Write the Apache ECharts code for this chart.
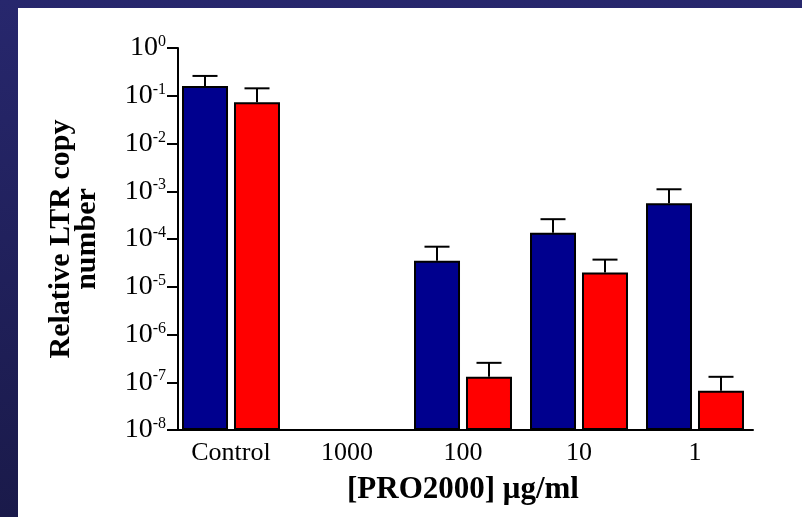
<!DOCTYPE html>
<html>
<head>
<meta charset="utf-8">
<script src="https://cdn.jsdelivr.net/npm/echarts@6/dist/echarts.min.js"></script>
<style>
 html, body { margin: 0; padding: 0; }
 body {
 	width: 802px; height: 517px; position: relative; overflow: hidden;
 	background: linear-gradient(to bottom, #27276d, #1a1a4a);
 }
 .panel { position: absolute; left: 18px; top: 8px; right: 0; bottom: 0; background: #fff; }
 #chart { position: absolute; left: 0; top: 0; width: 802px; height: 517px; }
</style>
</head>
<body>
<div class="panel"></div>
<div id="chart"></div>
<script type="text/javascript">
	// PRO2000 dose groups
	var categories = ['Control', '1000', '100', '10', '1'];
	// blue series: mean and upper error
	var blueMean  = [0.16, null, 3.5e-5, 1.35e-4, 5.6e-4];
	var blueUpper = [0.26, null, 6.9e-5, 2.6e-4, 1.1e-3];
	// red series: mean and upper error
	var redMean  = [0.073, null, 1.3e-7, 2.0e-5, 6.6e-8];
	var redUpper = [0.143, null, 2.55e-7, 3.7e-5, 1.3e-7];

	var serif = 'Liberation Serif';
	var barW = 46, gap = 6;

	function errData(mean, upper) {
		var out = [];
		for (var i = 0; i < mean.length; i++) {
			if (mean[i] != null) out.push([i, mean[i], upper[i]]);
		}
		return out;
	}

	function errorBar(offset) {
		return function (params, api) {
			var base = api.coord([api.value(0), api.value(1)]);
			var top = api.coord([api.value(0), api.value(2)]);
			var x = base[0] + offset;
			var st = { stroke: '#000', lineWidth: 2 };
			return {
				type: 'group',
				children: [
					{ type: 'line', shape: { x1: x, y1: base[1], x2: x, y2: top[1] }, style: st },
					{ type: 'line', shape: { x1: x - 12.5, y1: top[1], x2: x + 12.5, y2: top[1] }, style: st }
				]
			};
		};
	}

	var options = {
		backgroundColor: 'transparent',
		animation: false,
		grid: { left: 173, right: 49, top: 48, bottom: 87 },
		xAxis: {
			type: 'category',
			data: categories,
			axisTick: { show: false },
			axisLine: { lineStyle: { color: '#000', width: 2 } },
			axisLabel: { color: '#000', fontFamily: serif, fontSize: 26, margin: 10 },
			name: '[PRO2000] \u03bcg/ml',
			nameLocation: 'middle',
			nameGap: 44,
			nameTextStyle: { color: '#000', fontFamily: serif, fontSize: 31, fontWeight: 'bold' }
		},
		yAxis: {
			type: 'log',
			logBase: 10,
			min: 1e-8,
			max: 1,
			interval: 1,
			startValue: 1e-8,
			offset: -5,
			splitLine: { show: false },
			minorTick: { show: false },
			axisLine: { show: true, lineStyle: { color: '#000', width: 2 } },
			axisTick: { show: true, length: 11, lineStyle: { color: '#000', width: 2 } },
			axisLabel: {
				margin: 12,
				formatter: function (v) {
					var e = Math.round(Math.log10(v));
					return '{b|10}{s|' + (e === 0 ? '0' : '-' + (-e)) + '}';
				},
				rich: {
					b: { fontFamily: serif, fontSize: 28, color: '#000' },
					s: { fontFamily: serif, fontSize: 16, color: '#000', verticalAlign: 'top' }
				}
			},
			name: 'Relative LTR copy\nnumber',
			nameLocation: 'middle',
			nameRotate: 90,
			nameGap: 78,
			nameTextStyle: { color: '#000', fontFamily: serif, fontSize: 30, fontWeight: 'bold', lineHeight: 26 }
		},
		series: [
			{
				type: 'bar', data: blueMean, barWidth: barW, barGap: '13%',
				itemStyle: { color: '#00008e', borderColor: '#000', borderWidth: 2 }
			},
			{
				type: 'bar', data: redMean, barWidth: barW,
				itemStyle: { color: '#ff0000', borderColor: '#000', borderWidth: 2 }
			},
			{
				type: 'custom', data: errData(blueMean, blueUpper),
				renderItem: errorBar(-(barW + gap) / 2), z: 5
			},
			{
				type: 'custom', data: errData(redMean, redUpper),
				renderItem: errorBar((barW + gap) / 2), z: 5
			}
		]
	};

	var myChart = echarts.init(document.getElementById('chart'));
	myChart.setOption(options);
</script>
</body>
</html>
